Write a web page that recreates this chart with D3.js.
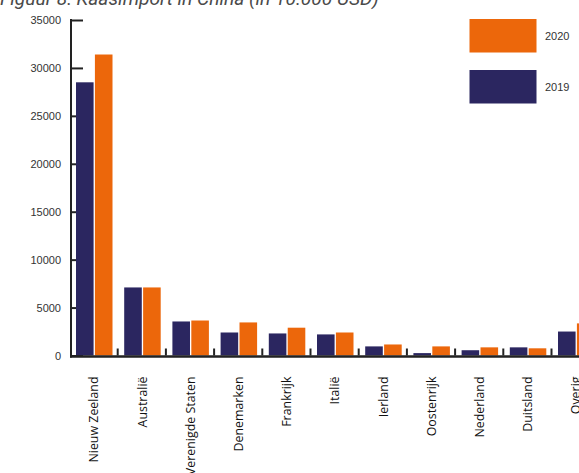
<!DOCTYPE html>
<html>
<head>
<meta charset="utf-8">
<script src="https://cdn.jsdelivr.net/npm/d3@7"></script>
<style>
  html, body { margin: 0; padding: 0; background: #fff; overflow: hidden; }
  svg { display: block; }
</style>
</head>
<body>
<svg id="chart" width="579" height="473"></svg>
<script>
// Kaasimport in China per land van herkomst (in 10.000 USD)
const categories = ["Nieuw Zeeland", "Australië", "Verenigde Staten", "Denemarken", "Frankrijk",
  "Italië", "Ierland", "Oostenrijk", "Nederland", "Duitsland", "Overig"];
const years = ["2019", "2020"];
const values2019 = [28500, 7100, 3550, 2400, 2300, 2200, 950, 250, 550, 850, 2500];
const values2020 = [31400, 7100, 3650, 3450, 2900, 2400, 1150, 950, 850, 750, 3350];
const yTicks = [0, 5000, 10000, 15000, 20000, 25000, 30000, 35000];
const titleText = "Figuur 8: Kaasimport in China (in 10.000 USD)";

const colors = { "2019": "#2b2660", "2020": "#ec670b" };
const seriesByYear = { "2019": values2019, "2020": values2020 };

const svg = d3.select("#chart");

const plotLeft = 71, plotBottom = 355.5, plotTop = 20;
const band = 48.2;

const x0 = d3.scaleBand()
  .domain(categories)
  .range([plotLeft - 1, plotLeft - 1 + band * categories.length])
  .padding(0);

const x1 = d3.scaleBand()
  .domain(years)
  .range([6, 42.5])
  .paddingInner(0.07);

const y = d3.scaleLinear()
  .domain([0, 35000])
  .range([plotBottom, plotTop]);

// Title (runs off the top edge of the page)
svg.append("text")
  .attr("x", 0)
  .attr("y", 5)
  .attr("font-family", "Roboto, 'Liberation Sans', sans-serif")
  .attr("font-style", "italic")
  .attr("font-size", 19.2)
  .attr("fill", "#4a4a4a")
  .text(titleText);

// Y axis: inward ticks, labels on the left
const yAxis = d3.axisLeft(y)
  .tickValues(yTicks)
  .tickSize(0)
  .tickPadding(10)
  .tickFormat(d3.format("d"));

const gy = svg.append("g")
  .attr("transform", `translate(${plotLeft},0)`)
  .call(yAxis);
gy.select(".domain").remove();
gy.selectAll("text")
  .attr("font-family", "'Liberation Sans', Arial, sans-serif")
  .attr("font-size", 11)
  .attr("fill", "#333");

gy.selectAll(".tick").append("line")
  .attr("x1", 0).attr("x2", 12)
  .attr("stroke", "#222")
  .attr("stroke-width", 2);

// Bars
const groups = svg.append("g")
  .selectAll("g")
  .data(categories)
  .join("g")
  .attr("transform", d => `translate(${x0(d)},0)`);

groups.selectAll("rect")
  .data((d, i) => years.map(yr => ({ year: yr, value: seriesByYear[yr][i] })))
  .join("rect")
  .attr("x", d => x1(d.year))
  .attr("width", x1.bandwidth())
  .attr("y", d => y(d.value))
  .attr("height", d => plotBottom - y(d.value))
  .attr("fill", d => colors[d.year]);

// Y axis line
svg.append("line")
  .attr("x1", plotLeft).attr("x2", plotLeft)
  .attr("y1", plotTop - 1).attr("y2", plotBottom + 2)
  .attr("stroke", "#222")
  .attr("stroke-width", 2);

// X axis line and small separator ticks between the groups
svg.append("line")
  .attr("x1", plotLeft - 1).attr("x2", 579)
  .attr("y1", plotBottom + 1).attr("y2", plotBottom + 1)
  .attr("stroke", "#222")
  .attr("stroke-width", 2.5);

svg.append("g")
  .selectAll("line")
  .data(categories.slice(1))
  .join("line")
  .attr("x1", d => x0(d) - 0.5)
  .attr("x2", d => x0(d) - 0.5)
  .attr("y1", plotBottom)
  .attr("y2", plotBottom - 7)
  .attr("stroke", "#222")
  .attr("stroke-width", 2);

// Category labels, rotated
const xAxis = d3.axisBottom(x0).tickSize(0).tickPadding(0);
const gx = svg.append("g")
  .attr("transform", `translate(0,${plotBottom})`)
  .call(xAxis);
gx.select(".domain").remove();
gx.selectAll("text")
  .attr("font-family", "'Open Sans', 'Noto Sans', sans-serif")
  .attr("font-size", 12.4)
  .attr("fill", "#111")
  .attr("text-anchor", "end")
  .attr("dy", "0.35em")
  .attr("transform", "translate(0,21) rotate(-90)");

// Legend
const legend = svg.append("g");
const legendItems = [
  { year: "2020", y: 19 },
  { year: "2019", y: 70 }
];
legend.selectAll("rect")
  .data(legendItems)
  .join("rect")
  .attr("x", 469.5)
  .attr("y", d => d.y)
  .attr("width", 67)
  .attr("height", 33.5)
  .attr("fill", d => colors[d.year]);
legend.selectAll("text")
  .data(legendItems)
  .join("text")
  .attr("x", 545)
  .attr("y", d => d.y + 17)
  .attr("dy", "0.35em")
  .attr("font-family", "'Liberation Sans', Arial, sans-serif")
  .attr("font-size", 11)
  .attr("fill", "#333")
  .text(d => d.year);
</script>
</body>
</html>
